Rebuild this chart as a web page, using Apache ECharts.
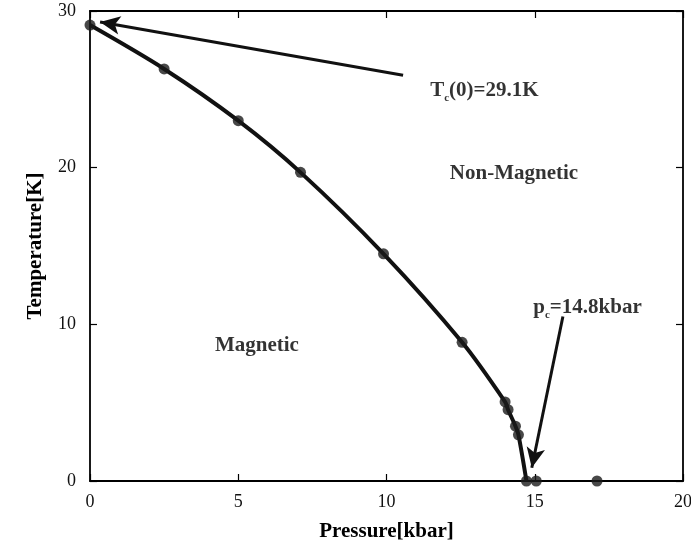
<!DOCTYPE html>
<html><head><meta charset="utf-8">
<script src="https://cdn.jsdelivr.net/npm/echarts@6/dist/echarts.min.js"></script>
<style>html,body{margin:0;padding:0;background:#fff}#c{width:691px;height:546px}</style>
</head><body><div id="c"></div>
<script>
const curveP = [0, 2.5, 5.0, 7.1, 9.9, 12.55, 14.0, 14.1, 14.35, 14.45, 14.72];
const curveT = [29.1, 26.3, 23.0, 19.7, 14.5, 8.85, 5.05, 4.55, 3.5, 2.95, 0];
const pointP = [0, 2.5, 5.0, 7.1, 9.9, 12.55, 14.0, 14.1, 14.35, 14.45, 14.72, 15.05, 17.1];
const pointT = [29.1, 26.3, 23.0, 19.7, 14.5, 8.85, 5.05, 4.55, 3.5, 2.95, 0, 0, 0];
const xTicks = [0, 5, 10, 15, 20];
const yTicks = [0, 10, 20, 30];
const tcArrow = [[10.56, 25.9], [0.34, 29.3]];
const pcArrow = [[15.95, 10.5], [14.9, 0.85]];
const labels = [
  {name: 'tc', p: 13.3, t: 24.95},
  {name: 'nonmag', p: 14.3, t: 19.6},
  {name: 'mag', p: 5.63, t: 8.62},
  {name: 'pc', p: 16.78, t: 11.1}
];

const serif = '"Liberation Serif", "DejaVu Serif", serif';
const chart = echarts.init(document.getElementById('c'));
const axisCommon = {
  axisLine: {show: true, onZero: false, lineStyle: {color: '#000', width: 1.8}},
  axisTick: {show: true, inside: true, length: 7, lineStyle: {color: '#000', width: 1.2}},
  splitLine: {show: false}
};
const rich = {
  b: {fontFamily: serif, fontWeight: 'bold', fontSize: 21, color: '#000'},
  s: {fontFamily: serif, fontWeight: 'bold', fontSize: 11, color: '#000', padding: [16, 0, 0, 0]}
};
const labelText = {
  tc: '{b|T}{s|c}{b|(0)=29.1K}',
  nonmag: '{b|Non-Magnetic}',
  mag: '{b|Magnetic}',
  pc: '{b|p}{s|c}{b|=14.8kbar}'
};
chart.setOption({
  animation: false,
  backgroundColor: '#fff',
  grid: {left: 90, right: 8, top: 11, bottom: 65, containLabel: false, outerBoundsMode: 'none'},
  xAxis: [{
    type: 'value', min: 0, max: 20, interval: 5, position: 'bottom',
    name: 'Pressure[kbar]', nameLocation: 'middle', nameGap: 40,
    nameTextStyle: {fontFamily: serif, fontWeight: 'bold', fontSize: 21, color: '#000'},
    axisLabel: {fontFamily: serif, fontSize: 18, color: '#111', margin: 12,
      formatter: v => xTicks.includes(v) ? String(v) : ''},
    ...axisCommon
  }, {
    type: 'value', min: 0, max: 20, interval: 5, position: 'top',
    axisLabel: {show: false}, ...axisCommon
  }],
  yAxis: [{
    type: 'value', min: 0, max: 30, interval: 10, position: 'left',
    name: 'Temperature[K]', nameLocation: 'middle', nameGap: 44, nameRotate: 90,
    nameTextStyle: {fontFamily: serif, fontWeight: 'bold', fontSize: 21, color: '#000'},
    axisLabel: {fontFamily: serif, fontSize: 18, color: '#111', margin: 14,
      formatter: v => yTicks.includes(v) ? String(v) : ''},
    ...axisCommon
  }, {
    type: 'value', min: 0, max: 30, interval: 10, position: 'right',
    axisLabel: {show: false}, ...axisCommon
  }],
  series: [{
    type: 'line', smooth: 0.3, symbol: 'none',
    data: curveP.map((p, i) => [p, curveT[i]]),
    lineStyle: {color: '#111', width: 4},
    markLine: {
      silent: true, symbol: ['none', 'arrow'], symbolSize: [14, 20],
      label: {show: false},
      lineStyle: {color: '#111', width: 3, type: 'solid'},
      data: [
        [{coord: tcArrow[0]}, {coord: tcArrow[1]}],
        [{coord: pcArrow[0]}, {coord: pcArrow[1]}]
      ]
    },
    z: 3
  }, {
    type: 'scatter', symbol: 'circle', symbolSize: 11,
    data: pointP.map((p, i) => [p, pointT[i]]),
    itemStyle: {color: '#1a1a1a'}, z: 4
  }, {
    type: 'scatter', symbolSize: 0,
    data: labels.map(l => ({name: l.name, value: [l.p, l.t]})),
    label: {show: true, position: 'inside', formatter: d => labelText[d.name], rich: rich},
    z: 5
  }]
});
</script></body></html>
